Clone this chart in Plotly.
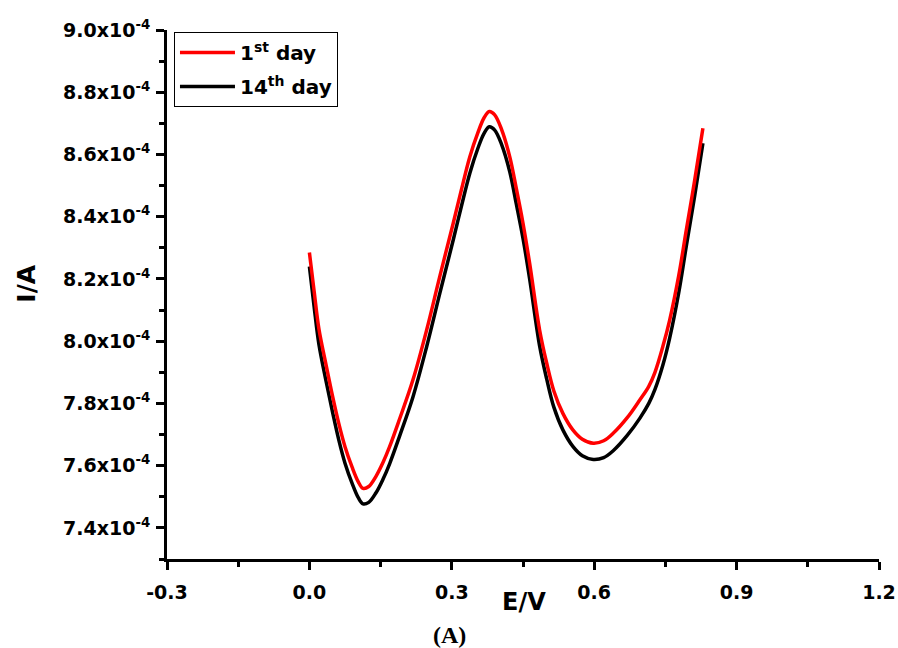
import plotly.graph_objects as go

# Potential (V)
e_red = [0.000, 0.010, 0.020, 0.035, 0.049, 0.062, 0.075, 0.090, 0.103, 0.113, 0.125, 0.140, 0.155, 0.169,
         0.190, 0.218, 0.247, 0.275, 0.303, 0.320, 0.338, 0.355, 0.368, 0.379, 0.390, 0.405, 0.422, 0.436,
         0.450, 0.464, 0.485, 0.500, 0.515, 0.534, 0.555, 0.575, 0.598, 0.620, 0.640, 0.670, 0.696, 0.715,
         0.728, 0.745, 0.759, 0.778, 0.794, 0.812, 0.829]
e_black = e_red

# Current (x10^-4 A)
i_day1 = [8.285, 8.160, 8.040, 7.925, 7.822, 7.735, 7.661, 7.595, 7.548, 7.527, 7.533, 7.565, 7.610, 7.661,
          7.750, 7.875, 8.036, 8.210, 8.379, 8.485, 8.593, 8.670, 8.718, 8.738, 8.728, 8.680, 8.593, 8.490,
          8.379, 8.250, 8.036, 7.929, 7.840, 7.768, 7.715, 7.685, 7.672, 7.680, 7.704, 7.755, 7.811, 7.855,
          7.900, 7.985, 8.068, 8.210, 8.357, 8.520, 8.684]
i_day14 = [8.240, 8.110, 7.990, 7.872, 7.770, 7.682, 7.608, 7.543, 7.497, 7.477, 7.482, 7.512, 7.556, 7.606,
           7.695, 7.820, 7.982, 8.155, 8.325, 8.432, 8.540, 8.620, 8.668, 8.689, 8.679, 8.632, 8.545, 8.440,
           8.330, 8.200, 7.985, 7.878, 7.788, 7.715, 7.662, 7.632, 7.620, 7.626, 7.648, 7.698, 7.752, 7.800,
           7.845, 7.925, 8.010, 8.155, 8.305, 8.470, 8.636]

x_ticks = [-0.3, 0.0, 0.3, 0.6, 0.9, 1.2]
x_ticktext = ["-0.3", "0.0", "0.3", "0.6", "0.9", "1.2"]
y_ticks = [7.4, 7.6, 7.8, 8.0, 8.2, 8.4, 8.6, 8.8, 9.0]
y_ticktext = [f"{v:.1f}x10<sup>-4</sup>" for v in y_ticks]

SCALE = 1e-4
FONT = "DejaVu Sans, Arial"

fig = go.Figure()
fig.add_trace(go.Scatter(
    x=e_black, y=[v * SCALE for v in i_day14], mode="lines", name="14<sup>th</sup> day",
    line=dict(color="black", width=3.5, shape="spline"), legendrank=2, legendgroup="d14"))
fig.add_trace(go.Scatter(
    x=e_red, y=[v * SCALE for v in i_day1], mode="lines", name="1<sup>st</sup> day",
    line=dict(color="#ff0000", width=3.5, shape="spline"), legendrank=1, legendgroup="d1"))

tickfont = dict(family=FONT, size=19, color="black", weight="bold")

fig.update_layout(
    width=898, height=648,
    margin=dict(l=167, r=19, t=30, b=89),
    paper_bgcolor="white", plot_bgcolor="white",
    showlegend=True,
    legend=dict(x=0.0098, y=0.996, xanchor="left", yanchor="top",
                bordercolor="black", borderwidth=1, bgcolor="white",
                font=dict(family=FONT, size=20, color="black", weight="bold"),
                itemwidth=55, tracegroupgap=5),
    xaxis=dict(range=[-0.3, 1.2], tickvals=x_ticks, ticktext=x_ticktext, automargin=False,
               showgrid=False, zeroline=False, showline=True, linecolor="black", linewidth=3,
               ticks="outside", ticklen=8, tickwidth=3, tickcolor="black", tickfont=tickfont,
               ticklabelstandoff=6,
               minor=dict(ticks="outside", ticklen=5, tickwidth=3, tickcolor="black",
                          tick0=-0.15, dtick=0.3, showgrid=False)),
    yaxis=dict(range=[7.3 * SCALE, 9.0 * SCALE], tickvals=[v * SCALE for v in y_ticks], ticktext=y_ticktext,
               automargin=False,
               showgrid=False, zeroline=False, showline=True, linecolor="black", linewidth=3,
               ticks="outside", ticklen=8, tickwidth=3, tickcolor="black", tickfont=tickfont,
               ticklabelstandoff=2,
               minor=dict(ticks="outside", ticklen=5, tickwidth=3, tickcolor="black",
                          tick0=7.3 * SCALE, dtick=0.2 * SCALE, showgrid=False)),
    annotations=[
        dict(text="I/A", xref="paper", yref="paper", x=-0.197, y=0.52, textangle=-90,
             showarrow=False, xanchor="center", yanchor="middle",
             font=dict(family=FONT, size=25, color="black", weight="bold")),
        dict(text="E/V", xref="paper", yref="paper", x=0.502, y=-0.082,
             showarrow=False, xanchor="center", yanchor="middle",
             font=dict(family=FONT, size=24, color="black", weight="bold")),
        dict(text="(A)", xref="paper", yref="paper", x=0.397, y=-0.144,
             showarrow=False, xanchor="center", yanchor="middle",
             font=dict(family="Liberation Serif, Times New Roman", size=24, color="black", weight="bold")),
    ],
)

fig.write_html("out.html")
